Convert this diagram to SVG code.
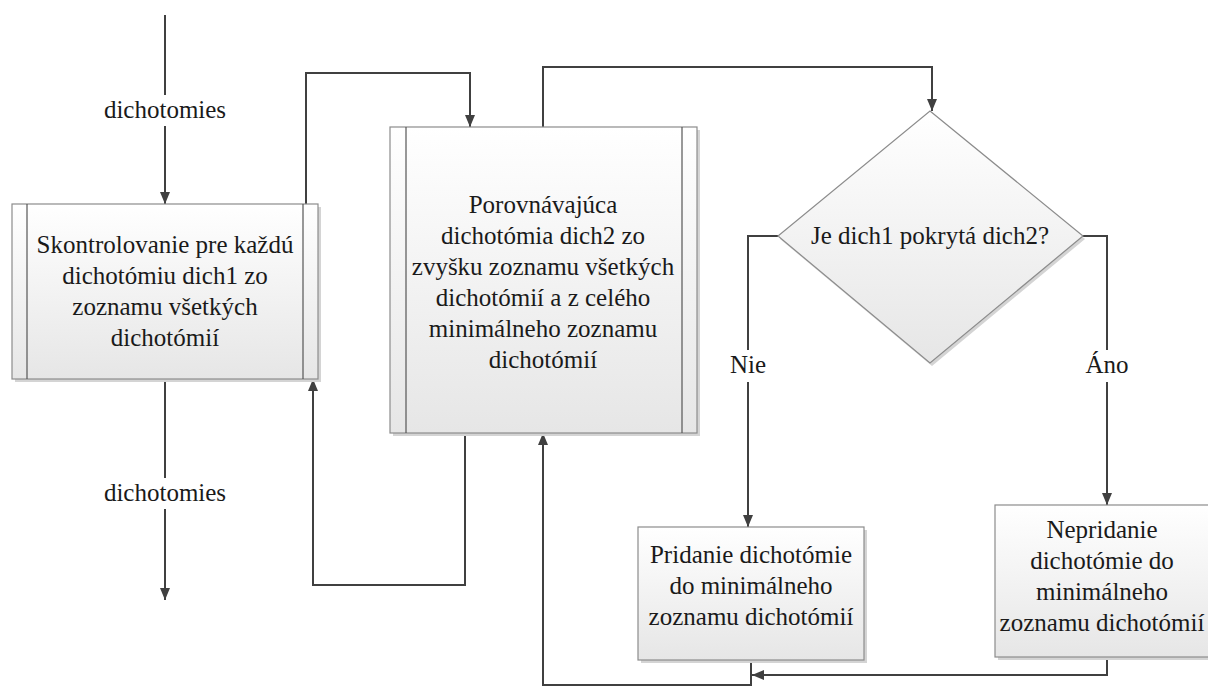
<svg xmlns="http://www.w3.org/2000/svg" width="1208" height="691" viewBox="0 0 1208 691">
<defs>
<linearGradient id="g" x1="0" y1="0" x2="0" y2="1">
<stop offset="0" stop-color="#ffffff"/>
<stop offset="1" stop-color="#e6e6e6"/>
</linearGradient>
<marker id="ah" viewBox="0 0 12 10" refX="12" refY="5" markerWidth="12" markerHeight="10" markerUnits="userSpaceOnUse" orient="auto">
<path d="M0,0 L12,5 L0,10 Z" fill="#404040"/>
</marker>
</defs>
<style>
.box{fill:url(#g);stroke:#8c8c8c;stroke-width:1.2}
.sh{fill:#d4d4d4}
.in{stroke:#555;stroke-width:1.2}
.t{font-size:25px;fill:#1a1a1a;text-anchor:middle}
.c{fill:none;stroke:#404040;stroke-width:2}
.a{marker-end:url(#ah)}
</style>
<rect width="1208" height="691" fill="#ffffff"/>
<g id="connectors">
<path class="c" d="M165,15 V95"/>
<path class="c a" d="M165,126 V204"/>
<path class="c" d="M165,379 V478"/>
<path class="c a" d="M165,509 V600"/>
<path class="c a" d="M306,204 V73 H470 V127"/>
<path class="c a" d="M465,433 V585 H313 V379"/>
<path class="c a" d="M543,127 V67 H932 V111"/>
<path class="c" d="M778,236 H748 V350"/>
<path class="c a" d="M748,382 V527"/>
<path class="c" d="M1083,236 H1107 V350"/>
<path class="c a" d="M1107,382 V505"/>
<path class="c a" d="M751,660 V685 H543 V433"/>
<path class="c a" d="M1107,657 V675 H752"/>
</g>
<g id="labels" font-family="Liberation Serif, Times New Roman, serif">
<text class="t" x="165" y="118">dichotomies</text>
<text class="t" x="165" y="501">dichotomies</text>
<text class="t" x="748" y="373">Nie</text>
<text class="t" x="1107" y="373">Áno</text>
</g>
<g id="box1" font-family="Liberation Serif, Times New Roman, serif">
<rect class="sh" x="15" y="207" width="306" height="175"/>
<rect class="box" x="12" y="204" width="306" height="175"/>
<line class="in" x1="27" y1="204" x2="27" y2="379"/>
<line class="in" x1="303" y1="204" x2="303" y2="379"/>
<text class="t" x="165" y="253">Skontrolovanie pre každú</text>
<text class="t" x="165" y="284">dichotómiu dich1 zo</text>
<text class="t" x="165" y="315">zoznamu všetkých</text>
<text class="t" x="165" y="346">dichotómií</text>
</g>
<g id="box2" font-family="Liberation Serif, Times New Roman, serif">
<rect class="sh" x="393" y="130" width="307" height="306"/>
<rect class="box" x="390" y="127" width="307" height="306"/>
<line class="in" x1="406" y1="127" x2="406" y2="433"/>
<line class="in" x1="682" y1="127" x2="682" y2="433"/>
<text class="t" x="543" y="213">Porovnávajúca</text>
<text class="t" x="543" y="244">dichotómia dich2 zo</text>
<text class="t" x="543" y="275">zvyšku zoznamu všetkých</text>
<text class="t" x="543" y="306">dichotómií a z celého</text>
<text class="t" x="543" y="337">minimálneho zoznamu</text>
<text class="t" x="543" y="368">dichotómií</text>
</g>
<g id="decision" font-family="Liberation Serif, Times New Roman, serif">
<polygon class="sh" points="932,114 1085,239 932,366 780,239"/>
<polygon class="box" points="930,111 1083,236 930,363 778,236"/>
<text class="t" x="930" y="244">Je dich1 pokrytá dich2?</text>
</g>
<g id="box3" font-family="Liberation Serif, Times New Roman, serif">
<rect class="sh" x="641" y="530" width="226" height="133"/>
<rect class="box" x="638" y="527" width="226" height="133"/>
<text class="t" x="751" y="563">Pridanie dichotómie</text>
<text class="t" x="751" y="594">do minimálneho</text>
<text class="t" x="751" y="625">zoznamu dichotómií</text>
</g>
<g id="box4" font-family="Liberation Serif, Times New Roman, serif">
<rect class="sh" x="998" y="508" width="216" height="152"/>
<rect class="box" x="995" y="505" width="216" height="152"/>
<text class="t" x="1102" y="538">Nepridanie</text>
<text class="t" x="1102" y="569">dichotómie do</text>
<text class="t" x="1102" y="600">minimálneho</text>
<text class="t" x="1102" y="631">zoznamu dichotómií</text>
</g>
</svg>
